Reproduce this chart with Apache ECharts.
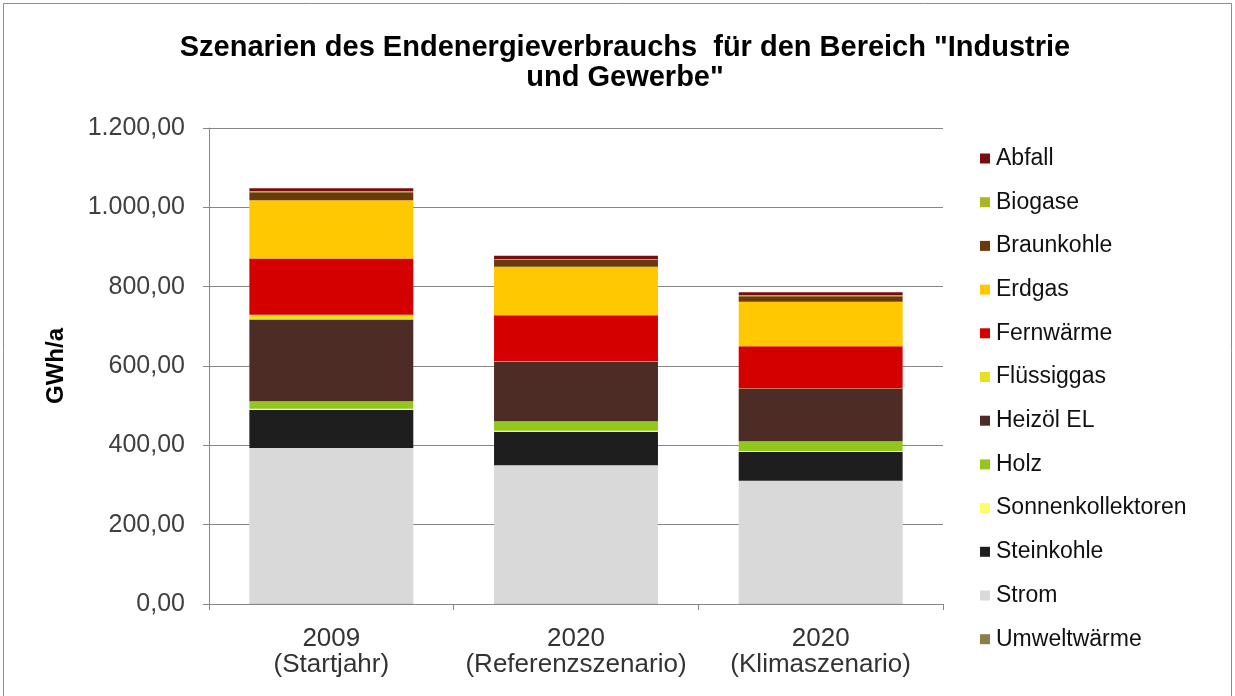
<!DOCTYPE html>
<html>
<head>
<meta charset="utf-8">
<script src="https://cdn.jsdelivr.net/npm/echarts@6/dist/echarts.min.js"></script>
<style>
  html, body { margin: 0; padding: 0; background: #ffffff; }
  #chart { width: 1235px; height: 696px; }
</style>
</head>
<body>
<div id="chart"></div>
<script>
// Scenarios (x-axis categories)
const categories = ['2009\n(Startjahr)', '2020\n(Referenzszenario)', '2020\n(Klimaszenario)'];

// Final energy consumption per carrier, GWh/a (stacked bottom to top)
const umweltwaerme      = [1, 1, 1];
const strom             = [392, 349, 310];
const steinkohle        = [96, 84, 72];
const sonnenkollektoren = [3, 3, 3];
const holz              = [19, 24, 24];
const heizoel           = [206, 150, 133];
const fluessiggas       = [12, 1, 1];
const fernwaerme        = [142, 116, 106];
const erdgas            = [147, 122, 112];
const braunkohle        = [20, 17, 14];
const biogase           = [3, 3, 3];
const abfall            = [7, 8, 7];

// Y-axis ticks
const yTicks = [0, 200, 400, 600, 800, 1000, 1200];

// Legend order (top to bottom)
const legendOrder = ['Abfall', 'Biogase', 'Braunkohle', 'Erdgas', 'Fernwärme', 'Flüssiggas',
  'Heizöl EL', 'Holz', 'Sonnenkollektoren', 'Steinkohle', 'Strom', 'Umweltwärme'];

const stackSeries = [
  { name: 'Umweltwärme',       data: umweltwaerme,      color: '#8c7d4a' },
  { name: 'Strom',             data: strom,             color: '#d9d9d9' },
  { name: 'Steinkohle',        data: steinkohle,        color: '#1e1e1e' },
  { name: 'Sonnenkollektoren', data: sonnenkollektoren, color: '#ffff66' },
  { name: 'Holz',              data: holz,              color: '#92c81e' },
  { name: 'Heizöl EL',         data: heizoel,           color: '#4d2c26' },
  { name: 'Flüssiggas',        data: fluessiggas,       color: '#e8e020' },
  { name: 'Fernwärme',         data: fernwaerme,        color: '#d40000' },
  { name: 'Erdgas',            data: erdgas,            color: '#ffc800' },
  { name: 'Braunkohle',        data: braunkohle,        color: '#6b3a0c' },
  { name: 'Biogase',           data: biogase,           color: '#a8b81e' },
  { name: 'Abfall',            data: abfall,            color: '#7a0c0c' }
];

const FONT = '"Liberation Sans", Arial, sans-serif';

function deNumber(v) {
  const fixed = v.toFixed(2);
  const parts = fixed.split('.');
  const intPart = parts[0].replace(/\B(?=(\d{3})+(?!\d))/g, '.');
  return intPart + ',' + parts[1];
}

const chart = echarts.init(document.getElementById('chart'), null, { renderer: 'canvas' });

chart.setOption({
  backgroundColor: '#ffffff',
  animation: false,
  graphic: [{
    type: 'rect',
    shape: { x: 3.5, y: 3.5, width: 1228, height: 700 },
    style: { fill: 'none', stroke: '#8c8c8c', lineWidth: 1 },
    silent: true
  }],
  title: {
    text: 'Szenarien des Endenergieverbrauchs  für den Bereich "Industrie\nund Gewerbe"',
    left: 625,
    top: 33,
    padding: 0,
    textAlign: 'center',
    textStyle: {
      fontFamily: FONT,
      fontSize: 29,
      fontWeight: 'bold',
      color: '#000000',
      lineHeight: 30,
      align: 'center'
    }
  },
  legend: {
    orient: 'vertical',
    left: 980,
    top: 147,
    padding: 0,
    itemWidth: 10,
    itemHeight: 10,
    itemGap: 20.7,
    icon: 'rect',
    data: legendOrder,
    textStyle: {
      fontFamily: FONT,
      fontSize: 23,
      color: '#111111',
      lineHeight: 22,
      padding: [0, 0, 0, 1]
    }
  },
  grid: {
    left: 209,
    right: 292,
    top: 128,
    bottom: 92,
    containLabel: false
  },
  xAxis: {
    type: 'category',
    data: categories,
    axisLine: { show: true, lineStyle: { color: '#868686', width: 1 } },
    axisTick: { show: true, length: 6, alignWithLabel: false, lineStyle: { color: '#868686' } },
    axisLabel: {
      interval: 0,
      hideOverlap: false,
      fontFamily: FONT,
      fontSize: 26,
      color: '#333333',
      lineHeight: 26,
      margin: 22
    }
  },
  yAxis: {
    type: 'value',
    min: yTicks[0],
    max: yTicks[yTicks.length - 1],
    interval: yTicks[1] - yTicks[0],
    name: 'GWh/a',
    nameLocation: 'middle',
    nameRotate: 90,
    nameGap: 141,
    nameTextStyle: {
      fontFamily: FONT,
      fontSize: 24,
      fontWeight: 'bold',
      color: '#000000'
    },
    axisLine: { show: true, lineStyle: { color: '#868686', width: 1 } },
    axisTick: { show: true, length: 6, inside: false, lineStyle: { color: '#868686' } },
    axisLabel: {
      fontFamily: FONT,
      fontSize: 25,
      color: '#404040',
      margin: 24,
      formatter: deNumber
    },
    splitLine: { show: true, lineStyle: { color: '#868686', width: 1 } }
  },
  series: stackSeries.map(s => ({
    name: s.name,
    type: 'bar',
    stack: 'total',
    data: s.data,
    barCategoryGap: '33%',
    itemStyle: { color: s.color },
    emphasis: { disabled: true }
  }))
});
</script>
</body>
</html>
